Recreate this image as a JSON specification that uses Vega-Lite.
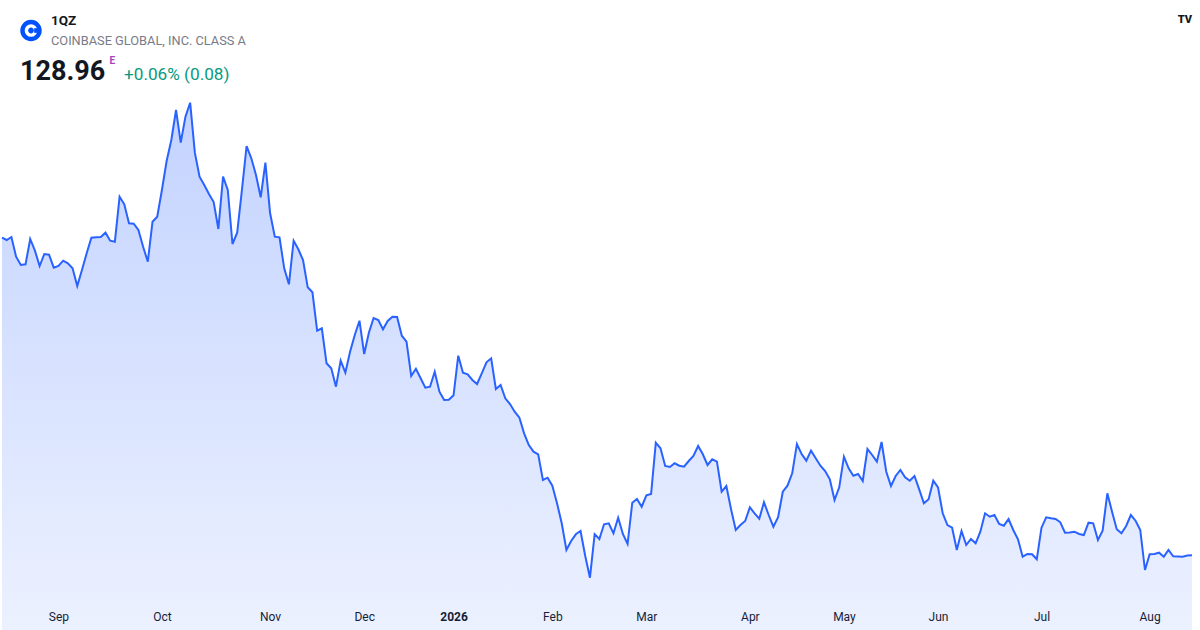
{
  "$schema": "https://vega.github.io/schema/vega-lite/v6.json",
  "width": 1190,
  "height": 600,
  "autosize": {"type": "none"},
  "padding": {"left": 2, "top": 0, "right": 8, "bottom": 30},
  "background": "white",
  "config": {"view": {"stroke": null}, "font": "Roboto"},
  "data": {
    "values": [
      {"date": "2025-08-14", "close": 275.06}, {"date": "2025-08-15", "close": 274.0}, {"date": "2025-08-18", "close": 275.38},
      {"date": "2025-08-19", "close": 266.32}, {"date": "2025-08-20", "close": 262.5}, {"date": "2025-08-21", "close": 262.8},
      {"date": "2025-08-22", "close": 274.46}, {"date": "2025-08-25", "close": 269.08}, {"date": "2025-08-26", "close": 262.04},
      {"date": "2025-08-27", "close": 267.56}, {"date": "2025-08-28", "close": 267.24}, {"date": "2025-08-29", "close": 261.26},
      {"date": "2025-09-01", "close": 262.04}, {"date": "2025-09-02", "close": 264.48}, {"date": "2025-09-03", "close": 263.28},
      {"date": "2025-09-04", "close": 260.98}, {"date": "2025-09-05", "close": 252.84}, {"date": "2025-09-08", "close": 260.2},
      {"date": "2025-09-09", "close": 267.88}, {"date": "2025-09-10", "close": 275.06}, {"date": "2025-09-11", "close": 275.24},
      {"date": "2025-09-12", "close": 275.38}, {"date": "2025-09-15", "close": 277.36}, {"date": "2025-09-16", "close": 273.68},
      {"date": "2025-09-17", "close": 273.22}, {"date": "2025-09-18", "close": 293.92}, {"date": "2025-09-19", "close": 290.42},
      {"date": "2025-09-22", "close": 281.68}, {"date": "2025-09-23", "close": 281.5}, {"date": "2025-09-24", "close": 278.6},
      {"date": "2025-09-25", "close": 270.92}, {"date": "2025-09-26", "close": 264.02}, {"date": "2025-09-29", "close": 282.42},
      {"date": "2025-09-30", "close": 284.72}, {"date": "2025-10-01", "close": 297.0}, {"date": "2025-10-02", "close": 310.34},
      {"date": "2025-10-03", "close": 320.0}, {"date": "2025-10-06", "close": 333.8}, {"date": "2025-10-07", "close": 318.76},
      {"date": "2025-10-08", "close": 330.72}, {"date": "2025-10-09", "close": 337.16}, {"date": "2025-10-10", "close": 314.16},
      {"date": "2025-10-13", "close": 303.12}, {"date": "2025-10-14", "close": 299.3}, {"date": "2025-10-15", "close": 295.16},
      {"date": "2025-10-16", "close": 291.48}, {"date": "2025-10-17", "close": 279.06}, {"date": "2025-10-20", "close": 303.12},
      {"date": "2025-10-21", "close": 297.0}, {"date": "2025-10-22", "close": 272.16}, {"date": "2025-10-23", "close": 277.36},
      {"date": "2025-10-24", "close": 296.8}, {"date": "2025-10-27", "close": 317.24}, {"date": "2025-10-28", "close": 311.58},
      {"date": "2025-10-29", "close": 303.9}, {"date": "2025-10-30", "close": 293.64}, {"date": "2025-10-31", "close": 309.56},
      {"date": "2025-11-03", "close": 286.28}, {"date": "2025-11-04", "close": 275.52}, {"date": "2025-11-05", "close": 275.24},
      {"date": "2025-11-06", "close": 260.98}, {"date": "2025-11-07", "close": 253.62}, {"date": "2025-11-10", "close": 273.68},
      {"date": "2025-11-11", "close": 269.72}, {"date": "2025-11-12", "close": 264.8}, {"date": "2025-11-13", "close": 252.24},
      {"date": "2025-11-14", "close": 249.94}, {"date": "2025-11-17", "close": 232.28}, {"date": "2025-11-18", "close": 233.38},
      {"date": "2025-11-19", "close": 217.28}, {"date": "2025-11-20", "close": 214.98}, {"date": "2025-11-21", "close": 206.52},
      {"date": "2025-11-24", "close": 218.48}, {"date": "2025-11-25", "close": 212.96}, {"date": "2025-11-26", "close": 222.62},
      {"date": "2025-11-27", "close": 230.3}, {"date": "2025-11-28", "close": 236.88}, {"date": "2025-12-01", "close": 221.56},
      {"date": "2025-12-02", "close": 231.36}, {"date": "2025-12-03", "close": 238.12}, {"date": "2025-12-04", "close": 237.2},
      {"date": "2025-12-05", "close": 232.92}, {"date": "2025-12-08", "close": 236.74}, {"date": "2025-12-09", "close": 238.72},
      {"date": "2025-12-10", "close": 238.58}, {"date": "2025-12-11", "close": 229.98}, {"date": "2025-12-12", "close": 227.22},
      {"date": "2025-12-15", "close": 211.44}, {"date": "2025-12-16", "close": 214.8}, {"date": "2025-12-17", "close": 210.38},
      {"date": "2025-12-18", "close": 206.06}, {"date": "2025-12-19", "close": 206.52}, {"date": "2025-12-22", "close": 213.42},
      {"date": "2025-12-23", "close": 204.22}, {"date": "2025-12-29", "close": 200.4}, {"date": "2025-12-30", "close": 200.5},
      {"date": "2026-01-02", "close": 202.56}, {"date": "2026-01-05", "close": 220.78}, {"date": "2026-01-06", "close": 212.96},
      {"date": "2026-01-07", "close": 212.22}, {"date": "2026-01-08", "close": 209.6}, {"date": "2026-01-09", "close": 207.76},
      {"date": "2026-01-12", "close": 212.68}, {"date": "2026-01-13", "close": 217.74}, {"date": "2026-01-14", "close": 219.58},
      {"date": "2026-01-15", "close": 205.46}, {"date": "2026-01-16", "close": 207.3}, {"date": "2026-01-19", "close": 201.18},
      {"date": "2026-01-20", "close": 198.56}, {"date": "2026-01-21", "close": 195.02}, {"date": "2026-01-22", "close": 192.26},
      {"date": "2026-01-23", "close": 185.08}, {"date": "2026-01-26", "close": 179.7}, {"date": "2026-01-27", "close": 176.62},
      {"date": "2026-01-28", "close": 175.42}, {"date": "2026-01-29", "close": 163.6}, {"date": "2026-01-30", "close": 164.66},
      {"date": "2026-02-02", "close": 160.98}, {"date": "2026-02-03", "close": 152.88}, {"date": "2026-02-04", "close": 143.68},
      {"date": "2026-02-05", "close": 131.4}, {"date": "2026-02-06", "close": 135.54}, {"date": "2026-02-09", "close": 138.62},
      {"date": "2026-02-10", "close": 140.14}, {"date": "2026-02-11", "close": 128.64}, {"date": "2026-02-12", "close": 118.66},
      {"date": "2026-02-13", "close": 138.7}, {"date": "2026-02-16", "close": 136.46}, {"date": "2026-02-17", "close": 143.22},
      {"date": "2026-02-18", "close": 143.68}, {"date": "2026-02-19", "close": 139.08}, {"date": "2026-02-20", "close": 146.26},
      {"date": "2026-02-23", "close": 138.76}, {"date": "2026-02-24", "close": 134.16}, {"date": "2026-02-25", "close": 153.16},
      {"date": "2026-02-26", "close": 154.86}, {"date": "2026-02-27", "close": 151.32}, {"date": "2026-03-02", "close": 156.56},
      {"date": "2026-03-03", "close": 157.16}, {"date": "2026-03-04", "close": 180.76}, {"date": "2026-03-05", "close": 178.18},
      {"date": "2026-03-06", "close": 170.04}, {"date": "2026-03-09", "close": 169.58}, {"date": "2026-03-10", "close": 171.28},
      {"date": "2026-03-11", "close": 170.18}, {"date": "2026-03-12", "close": 169.72}, {"date": "2026-03-13", "close": 172.34},
      {"date": "2026-03-16", "close": 174.64}, {"date": "2026-03-17", "close": 179.24}, {"date": "2026-03-18", "close": 175.42},
      {"date": "2026-03-19", "close": 170.5}, {"date": "2026-03-20", "close": 173.12}, {"date": "2026-03-23", "close": 172.02},
      {"date": "2026-03-24", "close": 158.22}, {"date": "2026-03-25", "close": 160.84}, {"date": "2026-03-26", "close": 150.12},
      {"date": "2026-03-27", "close": 140.6}, {"date": "2026-03-30", "close": 142.9}, {"date": "2026-03-31", "close": 144.74},
      {"date": "2026-04-01", "close": 151.04}, {"date": "2026-04-02", "close": 148.28}, {"date": "2026-04-07", "close": 145.8},
      {"date": "2026-04-08", "close": 153.34}, {"date": "2026-04-09", "close": 147.5}, {"date": "2026-04-10", "close": 142.12},
      {"date": "2026-04-13", "close": 146.44}, {"date": "2026-04-14", "close": 158.22}, {"date": "2026-04-15", "close": 160.98},
      {"date": "2026-04-16", "close": 166.68}, {"date": "2026-04-17", "close": 180.16}, {"date": "2026-04-20", "close": 175.56},
      {"date": "2026-04-21", "close": 172.48}, {"date": "2026-04-22", "close": 177.08}, {"date": "2026-04-23", "close": 173.58},
      {"date": "2026-04-24", "close": 170.18}, {"date": "2026-04-27", "close": 167.74}, {"date": "2026-04-28", "close": 163.92},
      {"date": "2026-04-29", "close": 154.4}, {"date": "2026-04-30", "close": 160.24}, {"date": "2026-05-04", "close": 174.32},
      {"date": "2026-05-05", "close": 168.98}, {"date": "2026-05-06", "close": 165.58}, {"date": "2026-05-07", "close": 166.36},
      {"date": "2026-05-08", "close": 163.14}, {"date": "2026-05-11", "close": 177.86}, {"date": "2026-05-12", "close": 175.1},
      {"date": "2026-05-13", "close": 172.02}, {"date": "2026-05-14", "close": 181.08}, {"date": "2026-05-15", "close": 167.42},
      {"date": "2026-05-18", "close": 160.84}, {"date": "2026-05-19", "close": 165.44}, {"date": "2026-05-20", "close": 168.2},
      {"date": "2026-05-21", "close": 164.84}, {"date": "2026-05-22", "close": 163.28}, {"date": "2026-05-25", "close": 165.44},
      {"date": "2026-05-26", "close": 159.32}, {"date": "2026-05-27", "close": 152.88}, {"date": "2026-05-28", "close": 154.72},
      {"date": "2026-05-29", "close": 163.28}, {"date": "2026-06-01", "close": 160.24}, {"date": "2026-06-02", "close": 148.28},
      {"date": "2026-06-03", "close": 142.9}, {"date": "2026-06-04", "close": 141.66}, {"date": "2026-06-05", "close": 131.4},
      {"date": "2026-06-08", "close": 140.14}, {"date": "2026-06-09", "close": 133.7}, {"date": "2026-06-10", "close": 136.46},
      {"date": "2026-06-11", "close": 134.48}, {"date": "2026-06-12", "close": 139.82}, {"date": "2026-06-15", "close": 148.28},
      {"date": "2026-06-16", "close": 146.72}, {"date": "2026-06-17", "close": 147.5}, {"date": "2026-06-18", "close": 143.36},
      {"date": "2026-06-19", "close": 142.58}, {"date": "2026-06-22", "close": 145.66}, {"date": "2026-06-23", "close": 140.6},
      {"date": "2026-06-24", "close": 136.32}, {"date": "2026-06-25", "close": 128.32}, {"date": "2026-06-26", "close": 129.56},
      {"date": "2026-06-29", "close": 129.42}, {"date": "2026-06-30", "close": 127.12}, {"date": "2026-07-01", "close": 141.66},
      {"date": "2026-07-02", "close": 146.44}, {"date": "2026-07-03", "close": 145.98}, {"date": "2026-07-06", "close": 145.66},
      {"date": "2026-07-07", "close": 144.14}, {"date": "2026-07-08", "close": 139.36}, {"date": "2026-07-09", "close": 139.5},
      {"date": "2026-07-10", "close": 139.82}, {"date": "2026-07-13", "close": 138.76}, {"date": "2026-07-14", "close": 138.3},
      {"date": "2026-07-15", "close": 143.96}, {"date": "2026-07-16", "close": 143.68}, {"date": "2026-07-17", "close": 136.0},
      {"date": "2026-07-20", "close": 140.28}, {"date": "2026-07-21", "close": 157.48}, {"date": "2026-07-22", "close": 149.02},
      {"date": "2026-07-23", "close": 140.92}, {"date": "2026-07-24", "close": 139.08}, {"date": "2026-07-27", "close": 142.44},
      {"date": "2026-07-28", "close": 147.5}, {"date": "2026-07-29", "close": 144.88}, {"date": "2026-07-30", "close": 140.6},
      {"date": "2026-07-31", "close": 122.2}, {"date": "2026-08-03", "close": 129.42}, {"date": "2026-08-04", "close": 129.56},
      {"date": "2026-08-05", "close": 130.16}, {"date": "2026-08-06", "close": 128.32}, {"date": "2026-08-07", "close": 131.4},
      {"date": "2026-08-10", "close": 128.5}, {"date": "2026-08-11", "close": 128.4}, {"date": "2026-08-12", "close": 128.32},
      {"date": "2026-08-13", "close": 128.88}, {"date": "2026-08-14", "close": 128.96}
    ]
  },
  "layer": [
    {
      "mark": {
        "type": "area",
        "interpolate": "linear",
        "color": {
          "gradient": "linear",
          "x1": 0, "y1": 0, "x2": 0, "y2": 1,
          "stops": [
            {"offset": 0, "color": "rgba(41,98,255,0.28)"},
            {"offset": 1, "color": "rgba(41,98,255,0.015)"}
          ]
        }
      },
      "encoding": {
        "x": {
          "field": "date",
          "type": "ordinal",
          "sort": null,
          "scale": {"type": "point", "padding": 0},
          "axis": {
            "title": null,
            "domain": false,
            "ticks": false,
            "grid": false,
            "labelAngle": 0,
            "labelPadding": 11,
            "labelFontSize": 12,
            "labelColor": "#131722",
            "labelOverlap": false,
            "labelFlush": false,
            "values": ["2025-09-01", "2025-10-01", "2025-11-03", "2025-12-01", "2026-01-02", "2026-02-02", "2026-03-02", "2026-04-01", "2026-05-04", "2026-06-01", "2026-07-01", "2026-08-03"],
            "labelExpr": "slice(datum.value, 5, 7) == '01' ? slice(datum.value, 0, 4) : utcFormat(toDate(datum.value), '%b')",
            "labelFontWeight": {"condition": {"test": "slice(datum.value, 5, 7) == '01'", "value": "bold"}, "value": "normal"}
          }
        },
        "y": {
          "field": "close",
          "type": "quantitative",
          "scale": {"domain": [108.4, 384.4], "zero": false, "nice": false},
          "axis": null
        }
      }
    },
    {
      "mark": {"type": "line", "color": "#2962ff", "strokeWidth": 2, "interpolate": "linear"},
      "encoding": {
        "x": {"field": "date", "type": "ordinal", "sort": null},
        "y": {"field": "close", "type": "quantitative"}
      }
    },
    {
      "data": {"values": [{"label": "logo"}]},
      "mark": {"type": "point", "shape": "circle", "filled": true, "color": "#0052ff", "opacity": 1, "size": 460, "xOffset": 29, "yOffset": 30.5},
      "encoding": {
        "x": {"datum": "2025-08-14", "type": "ordinal"},
        "y": {"datum": 384.4, "type": "quantitative"}
      }
    },
    {
      "data": {"values": [{"label": "logo"}]},
      "mark": {"type": "point", "shape": "circle", "filled": false, "color": "white", "opacity": 1, "strokeWidth": 3.4, "size": 85, "xOffset": 29, "yOffset": 30.5},
      "encoding": {
        "x": {"datum": "2025-08-14", "type": "ordinal"},
        "y": {"datum": 384.4, "type": "quantitative"}
      }
    },
    {
      "data": {"values": [{"label": "logo"}]},
      "mark": {"type": "point", "shape": "square", "filled": true, "color": "#0052ff", "opacity": 1, "size": 22, "xOffset": 34.5, "yOffset": 30.5},
      "encoding": {
        "x": {"datum": "2025-08-14", "type": "ordinal"},
        "y": {"datum": 384.4, "type": "quantitative"}
      }
    },
    {
      "data": {"values": [{"label": "1QZ"}]},
      "mark": {"type": "text", "align": "left", "baseline": "middle", "dx": 49, "dy": 21, "fontSize": 13.5, "fontWeight": "bold", "color": "#131722"},
      "encoding": {
        "x": {"datum": "2025-08-14", "type": "ordinal"},
        "y": {"datum": 384.4, "type": "quantitative"},
        "text": {"field": "label"}
      }
    },
    {
      "data": {"values": [{"label": "COINBASE GLOBAL, INC. CLASS A"}]},
      "mark": {"type": "text", "align": "left", "baseline": "middle", "dx": 49, "dy": 40.5, "fontSize": 12.8, "color": "#787b86"},
      "encoding": {
        "x": {"datum": "2025-08-14", "type": "ordinal"},
        "y": {"datum": 384.4, "type": "quantitative"},
        "text": {"field": "label"}
      }
    },
    {
      "data": {"values": [{"label": "128.96"}]},
      "mark": {"type": "text", "align": "left", "baseline": "middle", "dx": 18, "dy": 72, "fontSize": 27, "fontWeight": "bold", "color": "#131722"},
      "encoding": {
        "x": {"datum": "2025-08-14", "type": "ordinal"},
        "y": {"datum": 384.4, "type": "quantitative"},
        "text": {"field": "label"}
      }
    },
    {
      "data": {"values": [{"label": "E"}]},
      "mark": {"type": "text", "align": "left", "baseline": "middle", "dx": 107.5, "dy": 60.5, "fontSize": 10, "fontWeight": "bold", "color": "#a844ba"},
      "encoding": {
        "x": {"datum": "2025-08-14", "type": "ordinal"},
        "y": {"datum": 384.4, "type": "quantitative"},
        "text": {"field": "label"}
      }
    },
    {
      "data": {"values": [{"label": "+0.06% (0.08)"}]},
      "mark": {"type": "text", "align": "left", "baseline": "middle", "dx": 122, "dy": 75, "fontSize": 17.2, "color": "#089981"},
      "encoding": {
        "x": {"datum": "2025-08-14", "type": "ordinal"},
        "y": {"datum": 384.4, "type": "quantitative"},
        "text": {"field": "label"}
      }
    },
    {
      "data": {"values": [{"label": "TV"}]},
      "mark": {"type": "text", "align": "center", "baseline": "middle", "dx": -7, "dy": 20, "fontSize": 11, "fontWeight": 900, "color": "#131722"},
      "encoding": {
        "x": {"datum": "2026-08-14", "type": "ordinal"},
        "y": {"datum": 384.4, "type": "quantitative"},
        "text": {"field": "label"}
      }
    }
  ]
}
